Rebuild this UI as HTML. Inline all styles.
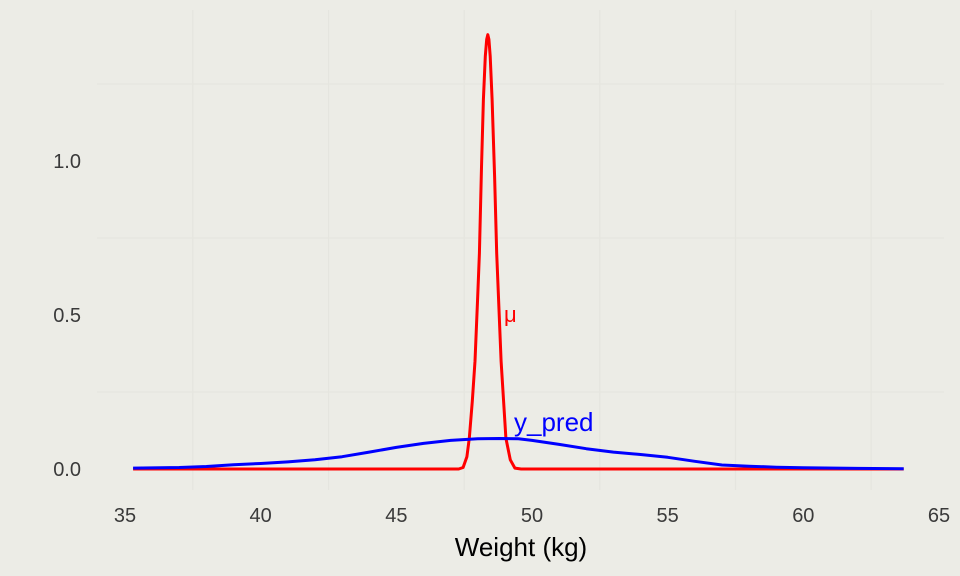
<!DOCTYPE html>
<html><head><meta charset="utf-8"><style>
html,body{margin:0;padding:0;background:#ECECE6;}
svg{display:block;font-family:"Liberation Sans",sans-serif;}
</style></head><body>
<svg id="chart" width="960" height="576">
<rect width="960" height="576" fill="#ECECE6"/>
<g id="grid"></g>
<g id="series"></g>
<g id="axes"></g>
<text x="521" y="556" font-size="26" text-anchor="middle" fill="#000">Weight (kg)</text>
<text x="504" y="322" font-size="22" fill="#FF0000">μ</text>
<text x="514" y="431" font-size="26" fill="#0000FF">y_pred</text>
</svg>
<script>
const xTicks=[35,40,45,50,55,60,65];
const yTicks=[0,0.5,1.0];
const yTickLabels=["0.0","0.5","1.0"];
const xMinor=[37.5,42.5,47.5,52.5,57.5,62.5];
const yMinor=[0.25,0.75,1.25];
const muX=[35.3,47.3,47.46,47.6,47.69,47.8,47.9,48.0,48.06,48.14,48.21,48.28,48.33,48.37,48.41,48.46,48.53,48.62,48.70,48.86,49.04,49.2,49.37,49.6,63.7];
const muY=[0,0,0.005,0.04,0.1,0.22,0.35,0.56,0.7,0.98,1.2,1.34,1.395,1.41,1.395,1.34,1.2,0.95,0.7,0.35,0.1,0.03,0.003,0,0];
const predX=[35.3,37,38,39,40,41,42,43,44,45,46,47,48,48.8,49.5,50,51,52,53,54,55,56,57,58,59,60,62,63.7];
const predY=[0.003,0.005,0.008,0.014,0.018,0.023,0.03,0.04,0.055,0.07,0.083,0.093,0.098,0.099,0.098,0.093,0.08,0.066,0.055,0.047,0.038,0.025,0.013,0.009,0.006,0.004,0.002,0.001];
const NS="http://www.w3.org/2000/svg";
const sx=v=>125+(v-35)*27.133;
const sy=v=>469-v*308;
const grid=document.getElementById('grid'),series=document.getElementById('series'),axes=document.getElementById('axes');
function mk(t,a,p){const e=document.createElementNS(NS,t);for(const k in a)e.setAttribute(k,a[k]);p.appendChild(e);return e;}
xMinor.forEach(v=>{const l=mk('line',{x1:sx(v),x2:sx(v),y1:10,y2:490,stroke:'#E5E5DF','stroke-width':1.2},grid);

});
yMinor.forEach(v=>{const l=mk('line',{x1:97,x2:944,y1:sy(v),y2:sy(v),stroke:'#E5E5DF','stroke-width':1.2},grid);

});
xTicks.forEach(v=>{const t=mk('text',{x:sx(v),y:522,'font-size':20,'text-anchor':'middle',fill:'#3a3a3a'},axes);t.textContent=v;

});
yTicks.forEach((v,i)=>{const t=mk('text',{x:81,y:sy(v)+7,'font-size':20,'text-anchor':'end',fill:'#3a3a3a'},axes);t.textContent=yTickLabels[i];

});
function path(xs,ys){return xs.map((x,i)=>(i?'L':'M')+sx(x).toFixed(1)+','+sy(ys[i]).toFixed(1)).join('');}
const m=mk('path',{d:path(muX,muY),fill:'none',stroke:'#FF0000','stroke-width':3,'stroke-linejoin':'round'},series);


const p=mk('path',{d:path(predX,predY),fill:'none',stroke:'#0000FF','stroke-width':3,'stroke-linejoin':'round'},series);


</script>
</body></html>
